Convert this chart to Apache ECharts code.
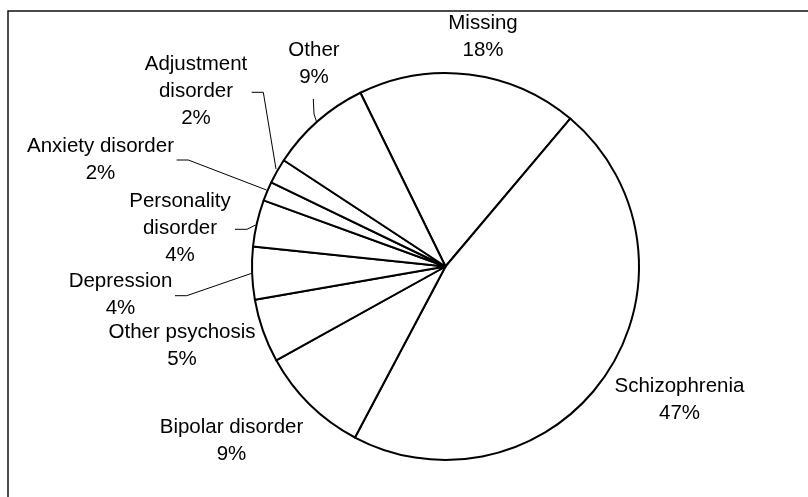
<!DOCTYPE html>
<html>
<head>
<meta charset="utf-8">
<script src="https://cdn.jsdelivr.net/npm/echarts@6/dist/echarts.min.js"></script>
<style>
html,body{margin:0;padding:0;background:#fff;}
#chart{width:808px;height:497px;}
</style>
</head>
<body>
<div id="chart"></div>
<script>
// Data (clockwise from the top-left edge of "Missing")
var categories = ['Missing', 'Schizophrenia', 'Bipolar disorder', 'Other psychosis', 'Depression',
                  'Personality\ndisorder', 'Anxiety disorder', 'Adjustment\ndisorder', 'Other'];
var values = [18.4, 46.6, 9.2, 5.3, 4.4, 3.9, 1.6, 2.1, 8.5];

// Label placement (style only): text block centres and leader lines
var labelPos = [
  [483, 37], [679.5, 400], [231.5, 440.5], [182, 346], [120.5, 295],
  [180, 228.5], [100.5, 160], [196, 91.5], [314, 63.5]
];
var leaderLines = [
  null, null, null, null,
  [[175, 295.7], [186.7, 295.7], [251.7, 273.3]],
  [[235, 229.3], [247, 229.3], [255.5, 225]],
  [[176.7, 160], [188.3, 160], [266.5, 190]],
  [[251.7, 92.3], [263.3, 92.3], [276, 169]],
  [[313.3, 99], [314, 114], [316.5, 121.5]]
];

var chart = echarts.init(document.getElementById('chart'), null, {renderer: 'canvas'});
var data = categories.map(function (c, i) {
  return {
    name: c,
    value: values[i],
    labelLine: {show: !!leaderLines[i]}
  };
});

chart.setOption({
  backgroundColor: '#fff',
  animation: false,
  graphic: [{
    type: 'rect',
    shape: {x: 8, y: 11, width: 900, height: 600},
    style: {fill: 'none', stroke: '#111', lineWidth: 1.5},
    silent: true
  }],
  series: [{
    type: 'pie',
    center: [445.5, 266.5],
    radius: 193.5,
    startAngle: 116.1,
    clockwise: true,
    avoidLabelOverlap: false,
    percentPrecision: 0,
    emphasis: {disabled: true},
    itemStyle: {color: '#fff', borderColor: '#000', borderWidth: 2},
    label: {
      show: true,
      position: 'outside',
      formatter: '{b}\n{d}%',
      color: '#000',
      fontFamily: 'Liberation Sans, Arial, sans-serif',
      fontSize: 20.5,
      lineHeight: 26.7,
      align: 'center'
    },
    labelLine: {
      show: true,
      length: 10,
      length2: 10,
      lineStyle: {color: '#000', width: 1}
    },
    labelLayout: function (params) {
      var i = params.dataIndex;
      var p = labelPos[i];
      var res = {x: p[0], y: p[1], align: 'center', verticalAlign: 'middle'};
      if (leaderLines[i]) res.labelLinePoints = leaderLines[i];
      return res;
    },
    data: data
  }]
});
</script>
</body>
</html>
